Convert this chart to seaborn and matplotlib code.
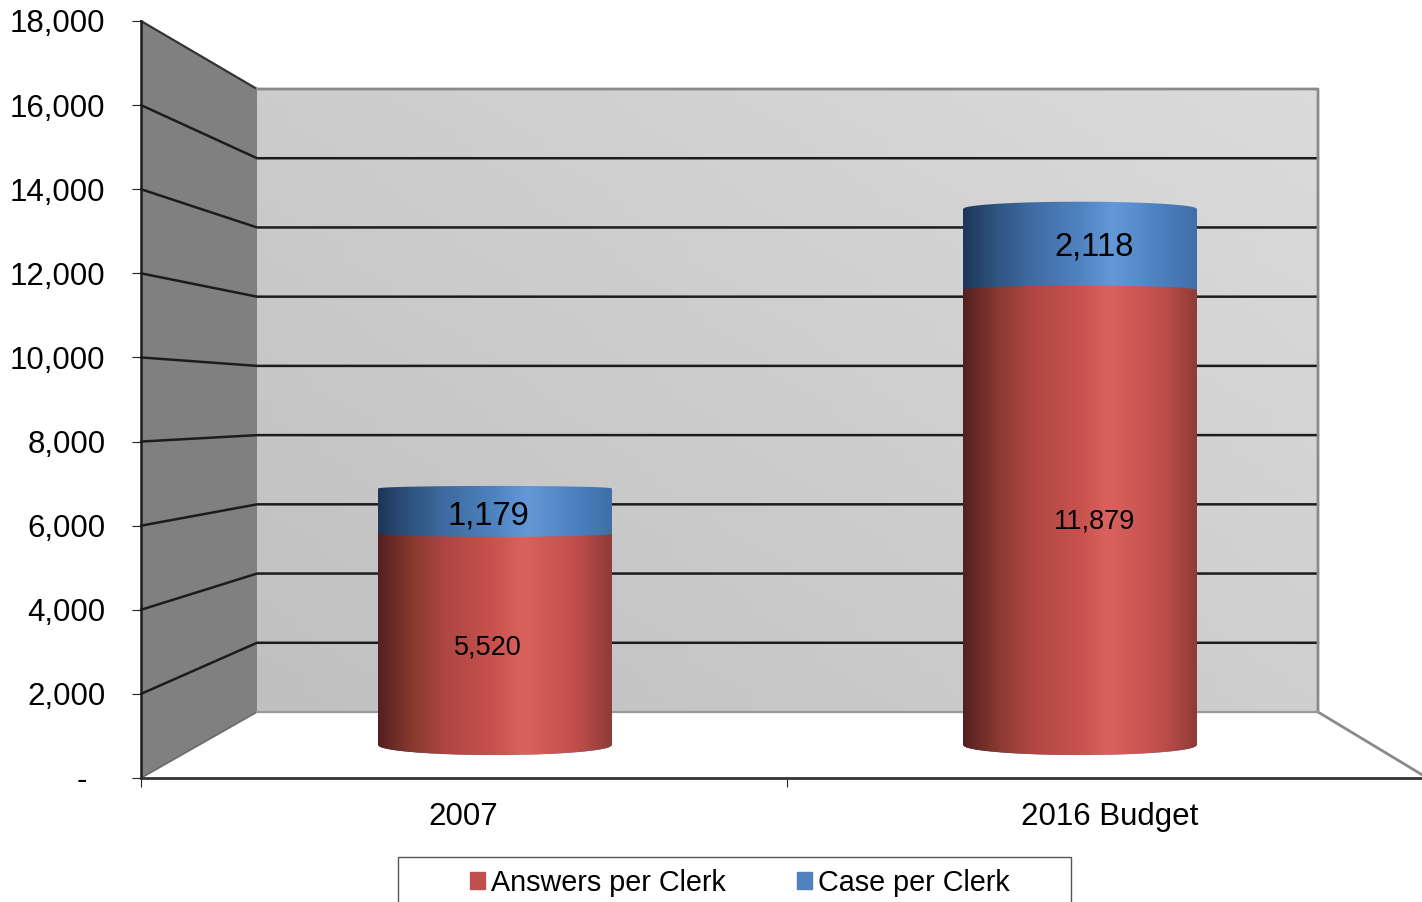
import numpy as np
import matplotlib
matplotlib.use('Agg')
import matplotlib.pyplot as plt
from matplotlib.colors import LinearSegmentedColormap
from matplotlib.patches import Polygon, Rectangle
from matplotlib.transforms import ScaledTranslation
import seaborn as sns

categories = ['2007', '2016 Budget']
answers_per_clerk = [5520, 11879]
case_per_clerk = [1179, 2118]
axis_values = [0, 2000, 4000, 6000, 8000, 10000, 12000, 14000, 16000, 18000]

# ---------- Parameters -------

W, H = 1422, 902
RED, BLUE = '#c0504d', '#4f81bd'
red_stops = [(0, '#54201e'), (0.14, '#86382f'), (0.28, '#ad4642'), (0.5, '#c9524f'),
             (0.62, '#da625e'), (0.85, '#c04f4b'), (1, '#8e3b38')]
blue_stops = [(0, '#1d3658'), (0.14, '#2f5480'), (0.3, '#3f6da3'), (0.5, '#4f83c0'),
              (0.64, '#6399d9'), (0.85, '#4b80bf'), (1, '#3f6fa6')]

sns.set_theme(style='white')
plt.rcParams['font.family'] = ['Liberation Sans', 'DejaVu Sans']


def front_y(v):
    return 778 - v * 757 / 18000


def back_y(v):
    return 712 - v * 623 / 18000


def bar_sag(v):
    # curvature of the cylinder edge in pixels, it flips going up the picture
    return 10 - 0.00123 * v


def cylinder_fill(ax, patch, low, high, cmap, px_per_unit, cap=False):
    x0, width = patch.get_x(), patch.get_width()
    t = np.linspace(-1, 1, 121)
    xs = x0 + (t + 1) / 2 * width
    round_off = np.sqrt(1 - t ** 2)
    y_low = low - bar_sag(low) * round_off / px_per_unit
    top_sag = min(bar_sag(high), -2.5) if cap else bar_sag(high)
    y_high = high - top_sag * round_off / px_per_unit
    outline = np.r_[np.c_[xs, y_low], np.c_[xs[::-1], y_high[::-1]]]
    clip = Polygon(outline, closed=True, transform=ax.transData, fc='none', ec='none')
    ax.add_patch(clip)
    im = ax.imshow(np.linspace(0, 1, 256)[None, :], cmap=cmap, aspect='auto', zorder=3,
                   extent=[x0, x0 + width, y_low.min() - 1, y_high.max() + 300])
    im.set_clip_path(clip)


# --------- Initialise figure ----------

fig = plt.figure(figsize=(W / 100, H / 100), dpi=100)

# pixel-space axes for the 3d box behind the bars
ax_box = fig.add_axes([0, 0, 1, 1], zorder=0)
ax_box.set_xlim(0, W)
ax_box.set_ylim(H, 0)
ax_box.axis('off')

wall = np.array([[141, front_y(0)], [257, back_y(0)], [257, back_y(18000)], [141, front_y(18000)]])
ax_box.add_patch(Polygon(wall, closed=True, fc='#808080', ec='none', zorder=1))

xx, yy = np.meshgrid(np.linspace(0, 1, 64), np.linspace(0, 1, 64))
ax_box.imshow(0.55 * xx + 0.45 * (1 - yy), origin='upper', aspect='auto', zorder=1,
              cmap=LinearSegmentedColormap.from_list('back', ['#c0c0c0', '#dbdbdb']),
              extent=[257, 1318, back_y(0), back_y(18000)])
ax_box.set_xlim(0, W)
ax_box.set_ylim(H, 0)

for v in axis_values[1:-1]:
    ax_box.plot([141, 257, 1318], [front_y(v), back_y(v), back_y(v)], color='#1c1c1c', lw=1.8, zorder=2)
ax_box.plot([141, 257], [front_y(18000), back_y(18000)], color='#333333', lw=1.6, zorder=2)
ax_box.plot([141, 257], [front_y(0), back_y(0)], color='#6a6a6a', lw=1.2, zorder=2)
ax_box.plot([257, 1318, 1318, 1422.5], [back_y(18000), back_y(18000), back_y(0), 775],
            color='#8a8a8a', lw=2, zorder=2)
ax_box.plot([257, 1318], [back_y(0), back_y(0)], color='#9a9a9a', lw=1.6, zorder=2)

# front axes carry the real ticks and labels
ax_front = fig.add_axes([141 / W, (H - 778) / H, (1432 - 141) / W, 757 / H], zorder=1)
ax_front.patch.set_alpha(0)
ax_front.set_xlim(-0.5, 1.5)
ax_front.set_ylim(0, 18000)
for side in ['top', 'right']:
    ax_front.spines[side].set_visible(False)
ax_front.spines['left'].set_color('#1c1c1c')
ax_front.spines['left'].set_linewidth(1.8)
ax_front.spines['bottom'].set_color('#333333')
ax_front.spines['bottom'].set_linewidth(2)
ax_front.set_xticks([0, 1], categories)
ax_front.set_xticks([-0.5, 0.5, 1.5], minor=True)
ax_front.tick_params(axis='x', which='major', length=0, pad=17, labelsize=22.5, labelcolor='black')
ax_front.tick_params(axis='x', which='minor', length=6.5, width=0.8, color='#222222', bottom=True)
ax_front.set_yticks(axis_values, ['-'] + [f'{v:,}' for v in axis_values[1:]])
ax_front.tick_params(axis='y', length=6.5, width=0.8, color='#222222', pad=19, labelsize=22.5,
                     labelcolor='black', left=True)
zero_label = ax_front.get_yticklabels()[0]
zero_label.set_transform(zero_label.get_transform() + ScaledTranslation(-13.5 / 72, 0, fig.dpi_scale_trans))

# bars axes, same size as the figure, 585 px per category and 0.0383 px per unit
px_per_unit = 0.0383
ax = fig.add_axes([0, 0, 1, 1], zorder=2)
ax.patch.set_alpha(0)
totals = [a + c for a, c in zip(answers_per_clerk, case_per_clerk)]
sns.barplot(x=categories, y=totals, color=BLUE, saturation=1, width=0.4, ax=ax)
sns.barplot(x=categories, y=answers_per_clerk, color=RED, saturation=1, width=0.4, ax=ax)
blue_bars = ax.containers[0]
red_bars = ax.containers[1]
red_cmap = LinearSegmentedColormap.from_list('red_cyl', red_stops)
blue_cmap = LinearSegmentedColormap.from_list('blue_cyl', blue_stops)
for patch in list(blue_bars) + list(red_bars):
    patch.set_visible(False)

for i in range(len(categories)):
    cylinder_fill(ax, blue_bars[i], 0, totals[i], blue_cmap, px_per_unit, cap=True)
    cylinder_fill(ax, red_bars[i], 0, answers_per_clerk[i], red_cmap, px_per_unit)

# data labels sit a little off centre in the original
label_dx = [[-7, -7], [14, 14]]
label_dy = [[-8.7, -5], [-3.5, 2.5]]
for i in range(len(categories)):
    a, c = answers_per_clerk[i], case_per_clerk[i]
    ax.annotate(f'{a:,}', (i, a / 2), xytext=(label_dx[i][0] * 0.72, label_dy[i][0] * 0.72),
                textcoords='offset points', ha='center', va='center', fontsize=19.5, color='black', zorder=5)
    ax.annotate(f'{c:,}', (i, a + c / 2), xytext=(label_dx[i][1] * 0.72, label_dy[i][1] * 0.72),
                textcoords='offset points', ha='center', va='center', fontsize=23.5, color='black', zorder=5)

ax.set_xlim((0 - 495) / 585, (W - 495) / 585)
ax.set_ylim((745 - H) / px_per_unit, 745 / px_per_unit)
ax.axis('off')

# legend, its box runs off the bottom of the picture
ax_box.add_patch(Rectangle((398, 857), 673, 60, fc='white', ec='#555555', lw=1, zorder=3))
handles = [Rectangle((0, 0), 1, 1, color=RED), Rectangle((0, 0), 1, 1, color=BLUE)]
ax.legend(handles, ['Answers per Clerk', 'Case per Clerk'], ncol=2, frameon=False, fontsize=20.7,
          loc='center left', bbox_to_anchor=(470, 883), bbox_transform=ax_box.transData,
          borderpad=0, borderaxespad=0, handlelength=0.52, handleheight=0.52, handletextpad=0.2,
          columnspacing=2.5, labelcolor='black')

fig.savefig('out.png', dpi=100)
